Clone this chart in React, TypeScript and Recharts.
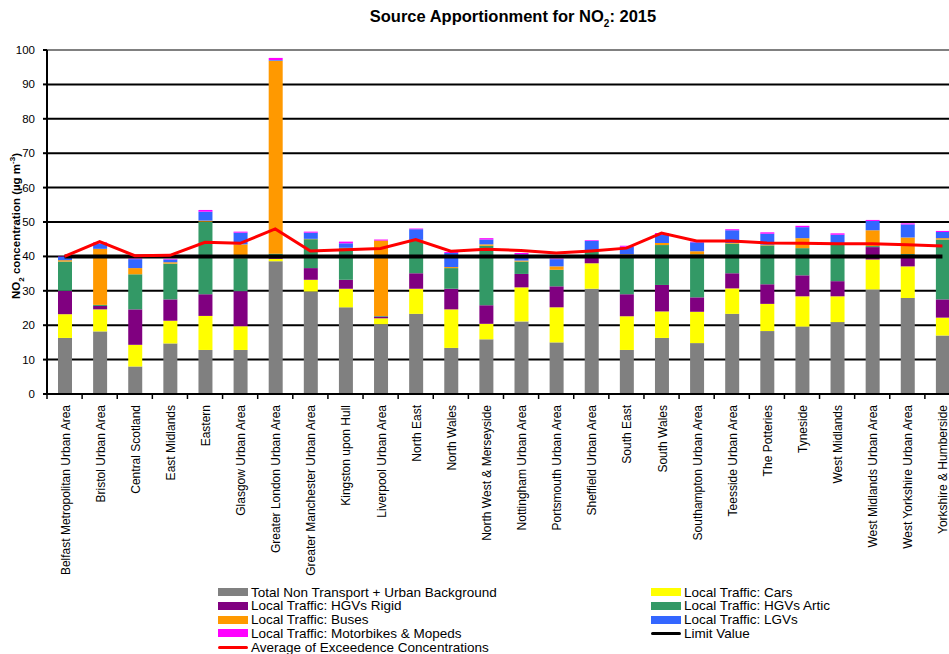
import React from "react";
import { ComposedChart, Bar, Line, XAxis, YAxis, CartesianGrid, ReferenceLine } from "recharts";

const categories = [
  "Belfast Metropolitan Urban Area",
  "Bristol Urban Area",
  "Central Scotland",
  "East Midlands",
  "Eastern",
  "Glasgow Urban Area",
  "Greater London Urban Area",
  "Greater Manchester Urban Area",
  "Kingston upon Hull",
  "Liverpool Urban Area",
  "North East",
  "North Wales",
  "North West & Merseyside",
  "Nottingham Urban Area",
  "Portsmouth Urban Area",
  "Sheffield Urban Area",
  "South East",
  "South Wales",
  "Southampton Urban Area",
  "Teesside Urban Area",
  "The Potteries",
  "Tyneside",
  "West Midlands",
  "West Midlands Urban Area",
  "West Yorkshire Urban Area",
  "Yorkshire & Humberside",
];

const background = [16.3, 18.2, 8.0, 14.7, 12.8, 12.8, 38.6, 29.8, 25.2, 20.3, 23.3, 13.4, 15.9, 21.1, 15.0, 30.6, 12.8, 16.3, 14.8, 23.3, 18.3, 19.6, 20.9, 30.4, 27.9, 17.0];
const cars = [6.9, 6.4, 6.3, 6.6, 9.9, 6.9, 0.7, 3.4, 5.4, 1.7, 7.3, 11.2, 4.5, 9.9, 10.2, 7.4, 9.8, 7.7, 9.1, 7.4, 7.9, 8.8, 7.5, 8.7, 9.2, 5.2];
const hgvRigid = [6.8, 1.0, 10.3, 6.2, 6.3, 10.2, 0.3, 3.4, 2.6, 0.5, 4.5, 6.0, 5.4, 3.9, 6.1, 1.8, 6.4, 7.7, 4.2, 4.4, 5.7, 6.1, 4.4, 3.6, 3.3, 5.3];
const hgvArtic = [8.5, 0.3, 10.2, 10.4, 21.1, 9.6, 1.2, 8.4, 9.2, 0.2, 9.6, 6.0, 17.3, 3.6, 4.8, 1.5, 11.4, 11.6, 12.5, 8.6, 11.3, 7.9, 10.6, 0.3, 0.3, 17.4];
const buses = [0.4, 16.3, 1.8, 0.4, 0.3, 4.0, 56.1, 0.1, 0.1, 21.9, 0.1, 0.3, 0.4, 0.3, 1.0, 0.3, 0.2, 0.6, 0.9, 0.2, 0.2, 2.9, 0.3, 4.6, 4.8, 0.4];
const lgvs = [1.0, 1.5, 2.6, 0.8, 2.6, 3.4, 0.2, 1.8, 1.3, 0.0, 3.1, 4.1, 1.4, 1.8, 2.1, 2.9, 2.2, 2.4, 2.6, 3.7, 3.2, 3.2, 2.6, 2.7, 3.8, 1.8];
const motorbikes = [0.1, 0.4, 0.2, 0.2, 0.5, 0.3, 0.6, 0.3, 0.5, 0.3, 0.2, 0.3, 0.4, 0.4, 0.2, 0.2, 0.3, 0.5, 0.2, 0.3, 0.4, 0.4, 0.4, 0.3, 0.3, 0.3];
const limitValue = [40, 40, 40, 40, 40, 40, 40, 40, 40, 40, 40, 40, 40, 40, 40, 40, 40, 40, 40, 40, 40, 40, 40, 40, 40, 40];
const exceedenceAvg = [40.0, 44.3, 40.2, 40.3, 44.1, 43.8, 48.0, 41.6, 41.9, 42.3, 44.9, 41.5, 42.1, 41.7, 41.0, 41.6, 42.4, 46.8, 44.5, 44.5, 43.9, 43.8, 43.7, 43.7, 43.4, 43.0];
const yTicks = [0, 10, 20, 30, 40, 50, 60, 70, 80, 90, 100];
const gridValues = [10, 20, 30, 40, 50, 60, 70, 80, 90];

const data = categories.map((name, i) => ({
  name,
  background: background[i],
  cars: cars[i],
  hgvRigid: hgvRigid[i],
  hgvArtic: hgvArtic[i],
  buses: buses[i],
  lgvs: lgvs[i],
  motorbikes: motorbikes[i],
  limit: limitValue[i],
  average: exceedenceAvg[i],
}));

// stack order, bottom to top
const stacks = [
  { key: "background", name: "Total Non Transport + Urban Background", color: "#808080" },
  { key: "cars", name: "Local Traffic: Cars", color: "#ffff00" },
  { key: "hgvRigid", name: "Local Traffic: HGVs Rigid", color: "#800080" },
  { key: "hgvArtic", name: "Local Traffic: HGVs Artic", color: "#339966" },
  { key: "buses", name: "Local Traffic: Buses", color: "#ff9900" },
  { key: "lgvs", name: "Local Traffic: LGVs", color: "#3366ff" },
  { key: "motorbikes", name: "Local Traffic: Motorbikes & Mopeds", color: "#ff00ff" },
];

// legend is laid out row by row, two columns
const legendItems = [
  { name: "Total Non Transport + Urban Background", color: "#808080", line: false },
  { name: "Local Traffic: Cars", color: "#ffff00", line: false },
  { name: "Local Traffic: HGVs Rigid", color: "#800080", line: false },
  { name: "Local Traffic: HGVs Artic", color: "#339966", line: false },
  { name: "Local Traffic: Buses", color: "#ff9900", line: false },
  { name: "Local Traffic: LGVs", color: "#3366ff", line: false },
  { name: "Local Traffic: Motorbikes & Mopeds", color: "#ff00ff", line: false },
  { name: "Limit Value", color: "#000000", line: true },
  { name: "Average of Exceedence Concentrations", color: "#ff0000", line: true },
];

const FONT = "'Liberation Sans', Arial, sans-serif";
const CHART_W = 975;
const CHART_H = 654;
const LEFT = 47;
const RIGHT = 15;
const BAND = (CHART_W - LEFT - RIGHT) / categories.length;

function CategoryTick(props: any) {
  const { x, y, payload } = props;
  return (
    <g>
      <line x1={x - BAND / 2} y1={y} x2={x - BAND / 2} y2={y + 5} stroke="#000" strokeWidth={1.5} />
      <text
        x={0}
        y={0}
        transform={`translate(${x + 1}, ${y + 11}) rotate(-90)`}
        textAnchor="end"
        dominantBaseline="central"
        fontSize={12}
        fontFamily={FONT}
        fill="#000"
      >
        {payload.value}
      </text>
    </g>
  );
}

export default function App() {
  return (
    <div style={{ position: "fixed", left: 0, top: 0, width: 949, height: 654, overflow: "hidden", background: "#fff", fontFamily: FONT }}>
      <div style={{ position: "absolute", left: 513, top: 18, transform: "translate(-50%, -50%)", fontSize: 16.5, fontWeight: "bold", whiteSpace: "nowrap" }}>
        Source Apportionment for NO<sub style={{ fontSize: 10 }}>2</sub>: 2015
      </div>
      <div style={{ position: "absolute", left: 17, top: 226, transform: "translate(-50%, -50%) rotate(-90deg)", fontSize: 11.5, fontWeight: "bold", whiteSpace: "nowrap" }}>
        NO<sub style={{ fontSize: 8 }}>2</sub> concentration (µg m<sup style={{ fontSize: 8 }}>-3</sup>)
      </div>
      <ComposedChart width={CHART_W} height={CHART_H} data={data} margin={{ top: 50, right: RIGHT, left: 0, bottom: 0 }}>
        <CartesianGrid vertical={false} horizontalValues={gridValues} stroke="#000" strokeWidth={2} />
        <ReferenceLine y={100} stroke="#808080" strokeWidth={2} />
        <XAxis
          dataKey="name"
          interval={0}
          height={260}
          tickSize={0}
          tickMargin={0}
          tick={<CategoryTick />}
          axisLine={{ stroke: "#000", strokeWidth: 2 }}
          tickLine={false}
        />
        <YAxis
          width={LEFT}
          domain={[0, 100]}
          ticks={yTicks}
          interval={0}
          tickSize={4}
          tickMargin={8}
          axisLine={{ stroke: "#000", strokeWidth: 2 }}
          tickLine={{ stroke: "#000", strokeWidth: 2 }}
          tick={{ fill: "#000", fontSize: 11.5, fontFamily: FONT }}
        />
        {stacks.map((s) => (
          <Bar key={s.key} dataKey={s.key} name={s.name} stackId="a" fill={s.color} barSize={14} isAnimationActive={false} />
        ))}
        <Line dataKey="limit" name="Limit Value" stroke="#000" strokeWidth={4} dot={false} type="linear" isAnimationActive={false} />
        <Line dataKey="average" name="Average of Exceedence Concentrations" stroke="#ff0000" strokeWidth={3} dot={false} type="linear" isAnimationActive={false} />
      </ComposedChart>
      {legendItems.map((item, i) => {
        const col = i % 2;
        const row = Math.floor(i / 2);
        const sx = col === 0 ? 218 : 651;
        const cy = 592 + row * 13.8;
        return (
          <div key={item.name} style={{ position: "absolute", left: sx, top: cy - 8, height: 16, display: "flex", alignItems: "center", whiteSpace: "nowrap" }}>
            <div style={{ width: 30, height: item.line ? 3 : 8, background: item.color, borderRadius: item.line ? 2 : 0 }} />
            <span style={{ marginLeft: 3, fontSize: 13.5, color: "#000" }}>{item.name}</span>
          </div>
        );
      })}
    </div>
  );
}
